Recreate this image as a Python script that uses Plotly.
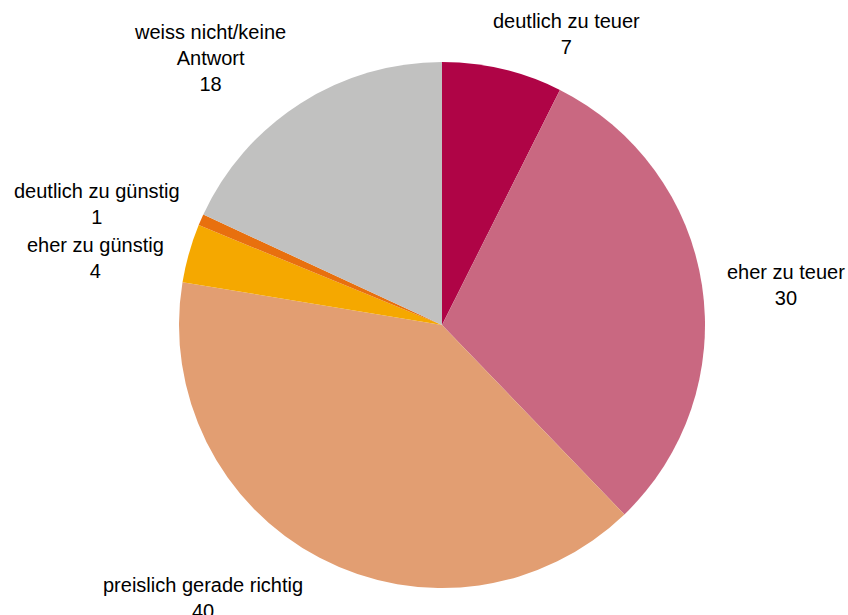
import plotly.graph_objects as go

categories = ["deutlich zu teuer", "eher zu teuer", "preislich gerade richtig",
              "eher zu günstig", "deutlich zu günstig", "weiss nicht/keine<br>Antwort"]
# slice shares (percent)
shares = [7.4, 30.4, 39.8, 3.6, 0.7, 18.1]
# rounded values printed in the labels
label_values = [7, 30, 40, 4, 1, 18]
colors = ["#AF0446", "#C96881", "#E29E72", "#F5A800", "#E8700E", "#C1C1C0"]

# label block centres in pixels (layout only)
label_px = [(566, 34), (786, 285), (203, 598), (95, 258), (97, 204), (210, 58)]

W, H = 848, 615
fig = go.Figure(go.Pie(
    labels=categories, values=shares, sort=False, direction="clockwise", rotation=0,
    marker=dict(colors=colors, line=dict(width=0)), textinfo="none", hoverinfo="label+percent",
    domain=dict(x=[179 / W, 705 / W], y=[(H - 588) / H, (H - 62) / H]),
    showlegend=False,
))

for cat, val, (px, py) in zip(categories, label_values, label_px):
    fig.add_annotation(x=px / W, y=1 - py / H, xref="paper", yref="paper",
                       text=f"{cat}<br>{val}", showarrow=False, xanchor="center", yanchor="middle",
                       align="center", font=dict(family="Liberation Sans, Arial", size=20, color="#000000"))

fig.update_layout(width=W, height=H, margin=dict(l=0, r=0, t=0, b=0),
                  paper_bgcolor="white", plot_bgcolor="white")
fig.write_html("out.html", config={"displayModeBar": False},
               post_script="document.body.style.margin='0px';")
